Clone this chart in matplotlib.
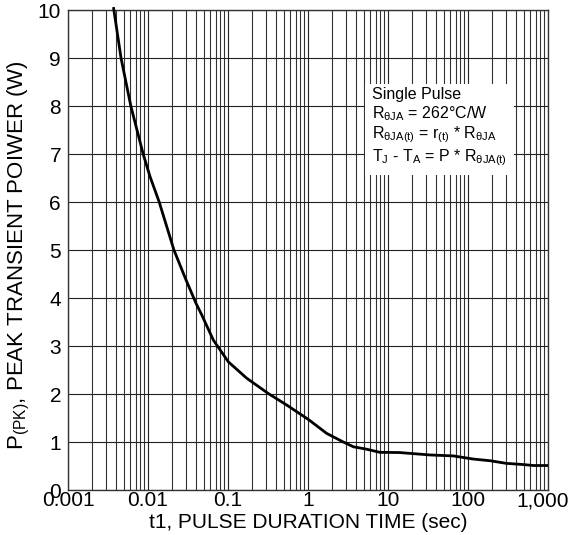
import numpy as np
import matplotlib
matplotlib.use('Agg')
import matplotlib.pyplot as plt
import matplotlib.transforms as mtransforms
from matplotlib.ticker import LogLocator, NullFormatter, FixedLocator

plt.rcParams['font.family'] = ['Liberation Sans', 'DejaVu Sans']
plt.rcParams['mathtext.default'] = 'regular'

# pulse duration (sec) vs peak transient power (W)
t_sec = [0.0037, 0.0046, 0.0061, 0.0087, 0.0106, 0.0138, 0.0211, 0.0299, 0.0398, 0.0469,
         0.0655, 0.101, 0.171, 0.319, 0.542, 1.01, 1.71, 2.76, 3.7, 5.4, 7.9, 14, 33.5,
         65.6, 116, 188, 302, 491, 660, 1000]
p_pk = [10.06, 9, 8, 7, 6.53, 6, 5, 4.375, 3.89, 3.65,
        3.125, 2.67, 2.33, 2.01, 1.77, 1.47, 1.18, 1.0, 0.90, 0.85, 0.785, 0.78, 0.73,
        0.71, 0.645, 0.61, 0.555, 0.53, 0.51, 0.51]

x_ticks = [0.001, 0.01, 0.1, 1, 10, 100, 1000]
x_labels = ['0.001', '0.01', '0.1', '1', '10', '100', '1,000']
y_ticks = list(range(0, 11))

fig = plt.figure(figsize=(5.69, 5.35), dpi=100)
ax = fig.add_axes([68/569, 45/535, 480/569, 480/535])

ax.plot(t_sec, p_pk, color='black', lw=2.0, solid_capstyle='butt', clip_on=False, zorder=3)

ax.set_xscale('log')
ax.set_xlim(0.001, 1000)
ax.set_ylim(0, 10)
ax.xaxis.set_major_locator(FixedLocator(x_ticks))
ax.set_xticklabels(x_labels)
ax.xaxis.set_minor_locator(LogLocator(base=10, subs=np.arange(2, 10), numticks=20))
ax.xaxis.set_minor_formatter(NullFormatter())
ax.set_yticks(y_ticks)

ax.grid(which='major', color='#222222', lw=0.8)
ax.grid(which='minor', axis='x', color='#333333', lw=0.8)
ax.tick_params(which='both', length=0, labelsize=15)
ax.tick_params(axis='x', pad=1)
ax.tick_params(axis='y', pad=5)

# last x label sits a bit left of its tick, as in the original
shift = mtransforms.ScaledTranslation(-5/100, 0, fig.dpi_scale_trans)
lbl = ax.get_xticklabels()[-1]
lbl.set_transform(lbl.get_transform() + shift)

for s in ax.spines.values():
    s.set_linewidth(1.0)
    s.set_color('#333333')

ax.set_xlabel('t1, PULSE DURATION TIME (sec)', fontsize=15, labelpad=2)
ax.set_ylabel(r'P$_{(PK)}$, PEAK TRANSIENT POIWER (W)', fontsize=16)
ax.yaxis.set_label_coords(-0.075, 0.49)

note = ('Single Pulse\n'
        r'R$_{\theta JA}$ = 262°C/W' '\n'
        r'R$_{\theta JA(t)}$ = r$_{(t)}$ * R$_{\theta JA}$' '\n'
        r'T$_J$ - T$_A$ = P * R$_{\theta JA(t)}$')
ax.text(0.633, 0.84, note, transform=ax.transAxes, fontsize=11.5, va='top', ha='left',
        linespacing=1.15, zorder=4,
        bbox=dict(facecolor='white', edgecolor='none', pad=5))

fig.savefig('out.png', dpi=100)
